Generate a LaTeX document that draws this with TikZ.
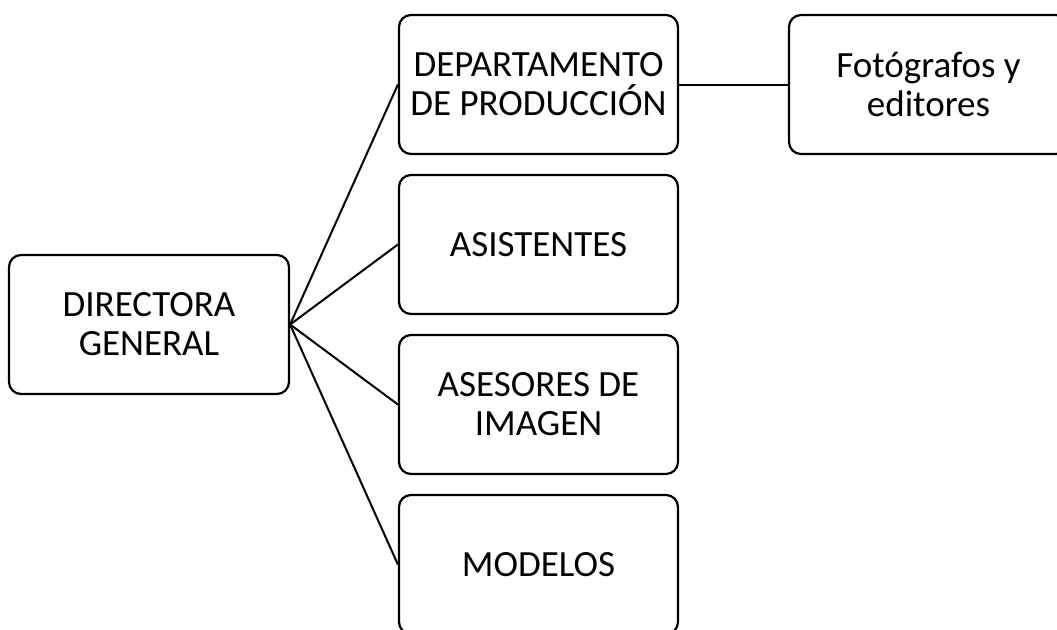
\documentclass[tikz,border=0pt]{standalone}
\usepackage{fontspec}
\setmainfont{Carlito}
\begin{document}
\begin{tikzpicture}[x=1pt,y=1pt,
  orgbox/.style={draw=black,line width=2.2pt,rounded corners=12pt,fill=white,
    minimum width=279pt,minimum height=139pt,inner sep=0pt,align=center,
    font=\fontsize{37}{39}\selectfont},
  link/.style={draw=black,line width=2pt}]
\path[use as bounding box] (0,0) rectangle (1057,-629);
\clip (0,0) rectangle (1057,-629);
\node[orgbox,minimum width=280pt] (dir) at (149,-324.5) {DIRECTORA\\GENERAL};
\node[orgbox] (dep) at (538.5,-84.5) {DEPARTAMENTO\\DE PRODUCCIÓN};
\node[orgbox] (asis) at (538.5,-244.5) {ASISTENTES};
\node[orgbox] (ases) at (538.5,-404.5) {ASESORES DE\\IMAGEN};
\node[orgbox] (mod) at (538.5,-564.5) {MODELOS};
\node[orgbox] (fot) at (928.5,-84.5) {Fotógrafos y\\editores};
\draw[link] (dir.east) -- (dep.west);
\draw[link] (dir.east) -- (asis.west);
\draw[link] (dir.east) -- (ases.west);
\draw[link] (dir.east) -- (mod.west);
\draw[link] (dep.east) -- (fot.west);
\end{tikzpicture}
\end{document}
